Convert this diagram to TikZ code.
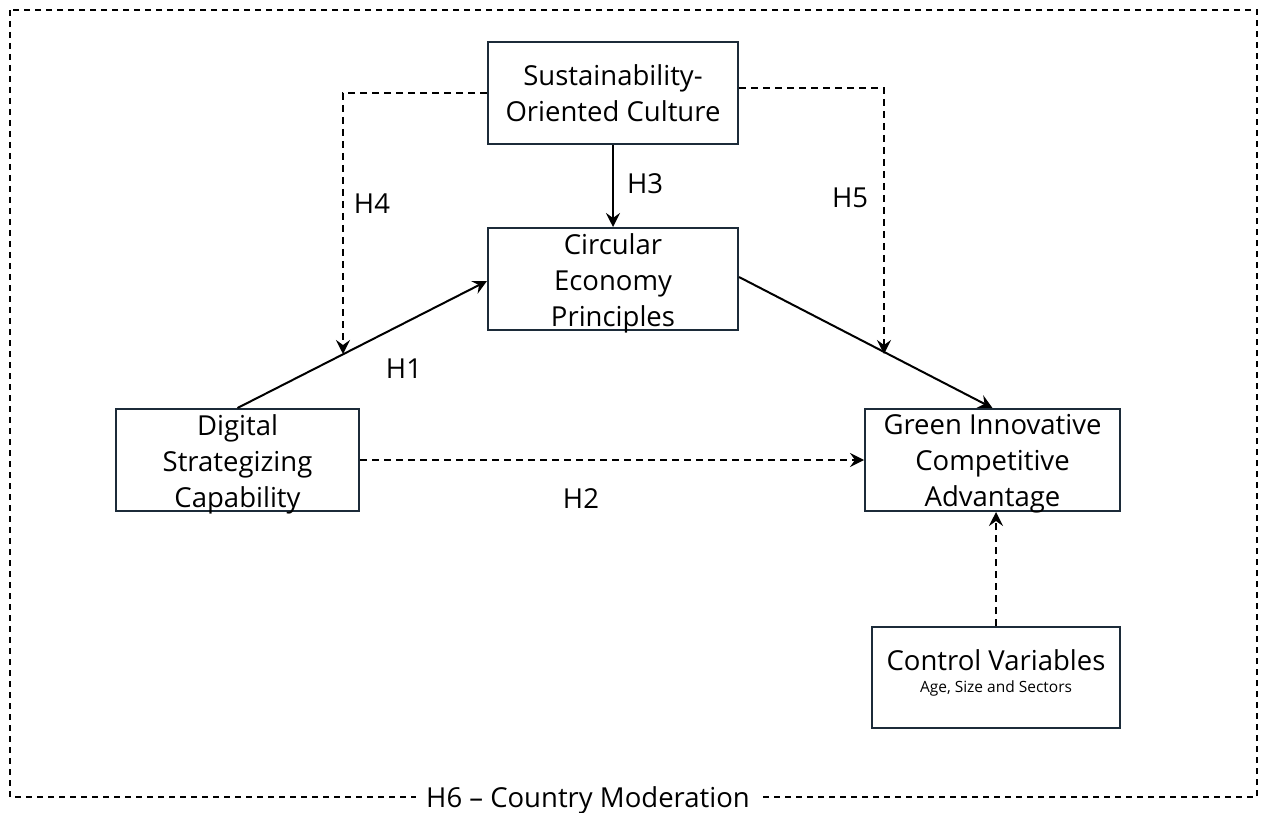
\documentclass[tikz,border=0pt]{standalone}
\usepackage{fontspec}
\setmainfont{Open Sans}
\usetikzlibrary{arrows.meta}
\definecolor{boxc}{HTML}{1C2B39}
\tikzset{
  x=1pt,y=-1pt,
  box/.style={draw=boxc,line width=2pt,minimum width=#1,minimum height=102pt,align=center,inner sep=0pt},
  box/.default=250pt,
  txt/.style={align=center,inner sep=0pt,font=\fontsize{27.5}{36}\selectfont},
  lbl/.style={font=\fontsize{27.5}{30}\selectfont,inner sep=0pt},
  sol/.style={line width=2pt,-{Stealth[length=14pt,width=14pt,inset=5pt]}},
  dsh/.style={line width=1.9pt,dash pattern=on 7pt off 5pt,-{Stealth[length=14pt,width=14pt,inset=5pt]}},
}
\begin{document}
\begin{tikzpicture}
\useasboundingbox (0,0) rectangle (1264,813);
\draw[line width=1.7pt,dash pattern=on 6pt off 5pt] (10,10) rectangle (1257,797);
\node[lbl,fill=white,inner xsep=10pt,inner ysep=4pt] (h6) at (588,800) {H6 – Country Moderation};

\node[box=250pt] (soc) at (613,93.5) {};
\node[box=250pt] (cep) at (613,279) {};
\node[box=243pt] (dsc) at (237.5,460) {};
\node[box=255pt] (gica) at (992.5,460) {};
\node[box=248pt,minimum height=101pt] (cv) at (996,677.5) {};

\node[txt] (soct) at (613,93) {Sustainability-\\Oriented Culture};
\node[txt] (cept) at (613,283) {Circular\\Economy\\Principles};
\node[txt] (dsct) at (237.5,464) {Digital\\Strategizing\\Capability};
\node[txt] (gicat) at (992.5,464) {Green Innovative\\Competitive\\Advantage};
\node[lbl] (cvt) at (996,660) {Control Variables};
\node[font=\fontsize{15.5}{18}\selectfont,inner sep=0pt] (cvs) at (996,688) {Age, Size and Sectors};

\coordinate (h4a) at (343,93);
\coordinate (h4b) at (343,354);
\coordinate (h5a) at (884,88);
\coordinate (h5b) at (884,354);

\draw[sol] (soc.south) -- (cep.north);
\draw[dsh] (soc.west |- h4a) -- (h4a) -- (h4b);
\draw[dsh] (soc.east |- h5a) -- (h5a) -- (h5b);
\draw[sol] (dsc.north) -- (cep.west |- 0,281);
\draw[sol] (cep.east |- 0,277) -- (gica.north);
\draw[dsh] (dsc.east) -- (gica.west);
\draw[dsh] (cv.north -| 996,0) -- (gica.south -| 996,0);

\node[lbl] (H3) at (645,184) {H3};
\node[lbl] (H4) at (372,204) {H4};
\node[lbl] (H5) at (850,198) {H5};
\node[lbl] (H1) at (404,369) {H1};
\node[lbl] (H2) at (581,499) {H2};
\end{tikzpicture}
\end{document}
